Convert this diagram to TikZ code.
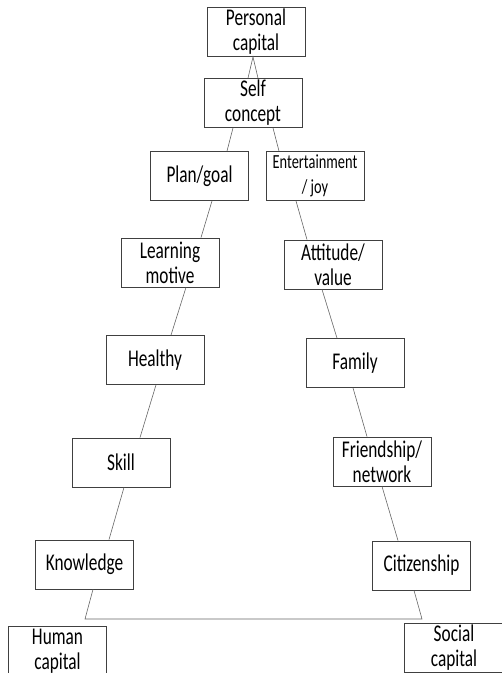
\documentclass[tikz,border=0pt]{standalone}
\usepackage{fontspec}
\setmainfont{Carlito}[FakeStretch=0.72]
\begin{document}
\begin{tikzpicture}[x=1pt, y=-1pt,
    box/.style={draw=black!75, line width=0.8pt, minimum width=98pt, minimum height=49pt,
                inner sep=1pt, align=center, font=\fontsize{24}{25}\selectfont},
    link/.style={draw=black!60, line width=0.6pt}]
                    \clip (0,0) rectangle (502,673);
                    \node[box] (pc) at (256, 32) {Personal\\capital};
                    \node[box] (sc) at (253, 103) {Self\\concept};
                    \node[box] (plan) at (199.5, 176) {Plan/goal};
                    \node[box, font=\fontsize{20}{25}\selectfont] (ent) at (315, 176) {Entertainment\\/ joy};
                    \node[box] (learn) at (170, 262.5) {Learning\\motive};
                    \node[box] (att) at (333, 264.5) {Attitude/\\value};
                    \node[box] (heal) at (155, 360) {Healthy};
                    \node[box] (fam) at (355, 363) {Family};
                    \node[box] (skill) at (121, 462.5) {Skill};
                    \node[box] (friend) at (382, 461.5) {Friendship/\\network};
                    \node[box] (know) at (84.5, 564.5) {Knowledge};
                    \node[box] (cit) at (421.5, 565.5) {Citizenship};
                    \node[box] (human) at (57.5, 651) {Human\\capital};
                    \node[box, minimum width=100pt] (social) at (454, 648) {Social\\capital};

                    \coordinate (hl) at (85, 619);
                    \coordinate (hr) at (422, 619);

                    % top
                    \draw[link] ([xshift=-5pt]sc.north) -- ([xshift=-3pt]pc.south) -- ([xshift=5pt]sc.north);
                    \draw[link] ([xshift=-20pt]sc.south) -- ([xshift=27.5pt]plan.north);
                    \draw[link] ([xshift=20pt]sc.south) -- ([xshift=-36pt]ent.north);
                    % left branch
                    \draw[link] ([xshift=12.5pt]plan.south) -- ([xshift=31pt]learn.north);
                    \draw[link] ([xshift=16pt]learn.south) -- ([xshift=16pt]heal.north);
                    \draw[link] ([xshift=1pt]heal.south) -- ([xshift=19pt]skill.north);
                    \draw[link] ([xshift=3pt]skill.south) -- ([xshift=24.5pt]know.north);
                    % right branch
                    \draw[link] ([xshift=-19pt]ent.south) -- ([xshift=-26pt]att.north);
                    \draw[link] ([xshift=-11pt]att.south) -- ([xshift=-18pt]fam.north);
                    \draw[link] ([xshift=-2pt]fam.south) -- ([xshift=-15pt]friend.north);
                    \draw[link] (friend.south) -- ([xshift=-23.5pt]cit.north);
                    % bottom
                    \draw[link] ([xshift=8.5pt]know.south) -- (hl) -- (hr) -- ([xshift=-7.5pt]cit.south);
                \end{tikzpicture}
\end{document}
